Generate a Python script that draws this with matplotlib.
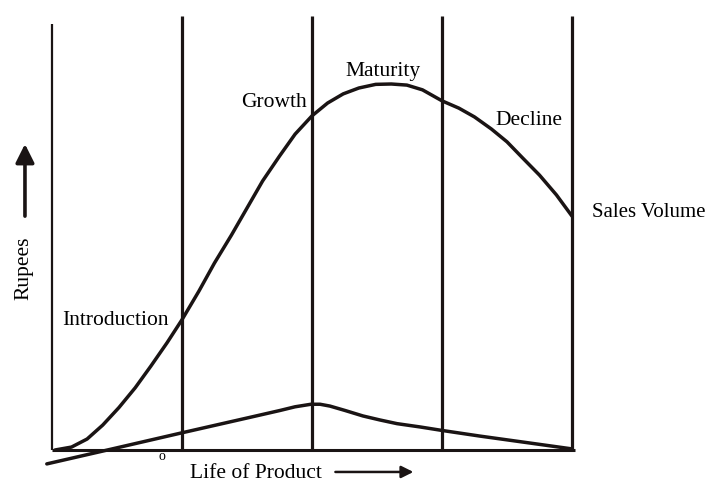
import matplotlib
matplotlib.use("Agg")
import matplotlib.pyplot as plt

# ---- data (life-of-product stage units, rupees index) ----
life_sales = [0.023, 0.15, 0.27, 0.39, 0.515, 0.64, 0.76, 0.885, 1.0, 1.13, 1.25, 1.38, 1.5,
              1.62, 1.75, 1.87, 2.0, 2.12, 2.24, 2.36, 2.49, 2.61, 2.73, 2.85, 3.0, 3.13,
              3.25, 3.38, 3.5, 3.62, 3.75, 3.88, 4.0]
sales = [0, 0.8, 3.0, 6.8, 11.6, 17.0, 22.9, 29.3, 35.6, 43.4, 51.1, 58.7, 66.1,
         73.5, 80.3, 86.3, 91.3, 94.8, 97.3, 98.9, 99.9, 100, 99.7, 98.4, 95.4, 93.4,
         91.0, 87.7, 84.2, 79.8, 75.1, 69.7, 63.9]

life_profit = [-0.04, 0.5, 1.0, 1.52, 1.754, 1.869, 1.992, 2.062, 2.138, 2.254, 2.392,
               2.523, 2.654, 2.831, 3.008, 3.292, 3.677, 4.0]
profit = [-3.8, 0.6, 4.7, 8.9, 10.8, 11.8, 12.5, 12.5, 12.0, 10.8, 9.3,
          8.2, 7.2, 6.3, 5.3, 3.8, 1.9, 0.3]

stage_bounds = [1, 2, 3, 4]
stage_labels = ["Introduction", "Growth", "Maturity", "Decline"]

plt.rcParams['font.family'] = ['Liberation Serif', 'DejaVu Serif']

W, H = 717, 482
fig = plt.figure(figsize=(W / 100, H / 100), dpi=100)
ax = fig.add_axes([52 / W, 32 / H, 520 / W, 366 / H])
ax.set_xlim(0, 4)
ax.set_ylim(0, 100)
ax.axis('off')

col = '#1a1414'
# axes
ax.plot([0, 0], [0, 116.4], color=col, lw=1.6, clip_on=False, solid_capstyle='butt')
ax.plot([0, 4.02], [0, 0], color=col, lw=2.2, clip_on=False, solid_capstyle='butt')
for b in stage_bounds:
    ax.plot([b, b], [0, 118.6], color=col, lw=2.3, clip_on=False, solid_capstyle='butt')

ax.plot(life_sales, sales, color=col, lw=2.5, clip_on=False,
        solid_capstyle='round', solid_joinstyle='round')
ax.plot(life_profit, profit, color=col, lw=2.5, clip_on=False,
        solid_capstyle='round', solid_joinstyle='round')

fs = 15.5
ax.text(0.485, 35.5, stage_labels[0], fontsize=fs, ha='center', va='center', clip_on=False)
ax.text(1.96, 95.0, stage_labels[1], fontsize=fs, ha='right', va='center', clip_on=False)
ax.text(2.55, 103.3, stage_labels[2], fontsize=fs, ha='center', va='center', clip_on=False)
ax.text(3.67, 89.9, stage_labels[3], fontsize=fs, ha='center', va='center', clip_on=False)
ax.text(4.15, 65.0, "Sales Volume", fontsize=fs - 0.5, ha='left', va='center', clip_on=False)
ax.text(-0.215, 49.7, "Rupees", fontsize=fs, ha='center', va='center', rotation=90, clip_on=False)
ax.text(0.846, -1.8, "o", fontsize=10, ha='center', va='center', clip_on=False)
ax.text(1.57, -6.3, "Life of Product", fontsize=fs, ha='center', va='center', clip_on=False)

ax.annotate("", xy=(-0.208, 83.6), xytext=(-0.208, 63.9),
            arrowprops=dict(arrowstyle='-|>', color=col, lw=2.6, mutation_scale=28,
                            shrinkA=0, shrinkB=0), annotation_clip=False)
ax.annotate("", xy=(2.78, -6.0), xytext=(2.18, -6.0),
            arrowprops=dict(arrowstyle='-|>', color=col, lw=1.8, mutation_scale=18,
                            shrinkA=0, shrinkB=0), annotation_clip=False)

fig.savefig("out.png", dpi=100)
